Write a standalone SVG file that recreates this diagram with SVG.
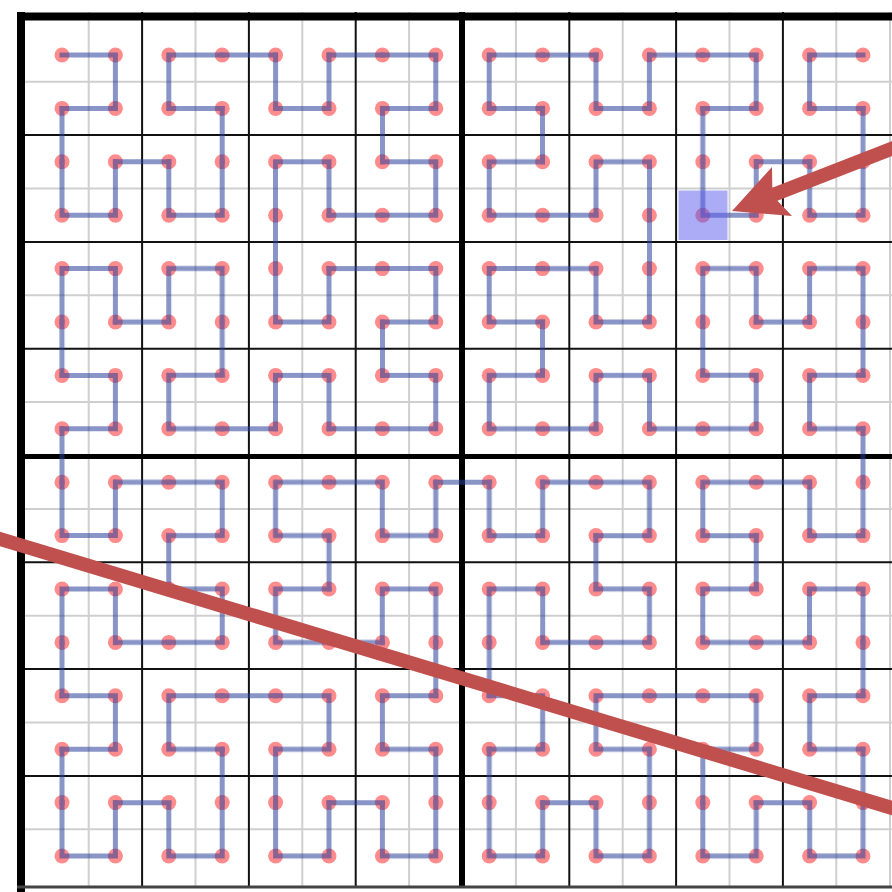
<svg xmlns="http://www.w3.org/2000/svg" xmlns:xlink="http://www.w3.org/1999/xlink" width="892" height="892" viewBox="0 0 892 892">
<style>
.gray{stroke:#cfcfcf;stroke-width:2;fill:none}
.blk{stroke:#111;stroke-width:2;fill:none}
.thick{stroke:#000;fill:none}
.dot{fill:#ff8c8c}
.curve{fill:none;stroke:#2a3f9a;stroke-width:5;stroke-linecap:square;stroke-linejoin:miter}
.red{fill:#c0504d;stroke:none}
</style>
<defs>
<g id="row">
<circle class="dot" cx="0" cy="0" r="7.5"/><circle class="dot" cx="53.4" cy="0" r="7.5"/><circle class="dot" cx="106.8" cy="0" r="7.5"/><circle class="dot" cx="160.2" cy="0" r="7.5"/><circle class="dot" cx="213.6" cy="0" r="7.5"/><circle class="dot" cx="267" cy="0" r="7.5"/><circle class="dot" cx="320.4" cy="0" r="7.5"/><circle class="dot" cx="373.8" cy="0" r="7.5"/><circle class="dot" cx="427.2" cy="0" r="7.5"/><circle class="dot" cx="480.6" cy="0" r="7.5"/><circle class="dot" cx="534" cy="0" r="7.5"/><circle class="dot" cx="587.4" cy="0" r="7.5"/><circle class="dot" cx="640.8" cy="0" r="7.5"/><circle class="dot" cx="694.2" cy="0" r="7.5"/><circle class="dot" cx="747.6" cy="0" r="7.5"/><circle class="dot" cx="801" cy="0" r="7.5"/>
</g>
<path id="h1" d="M0,0 V53.4 H53.4 V0"/>
<g id="h2">
<use href="#h1" xlink:href="#h1" transform="matrix(0,1,1,0,0,0)"/>
<use href="#h1" xlink:href="#h1" transform="translate(0,106.8)"/>
<use href="#h1" xlink:href="#h1" transform="translate(106.8,106.8)"/>
<use href="#h1" xlink:href="#h1" transform="matrix(0,-1,-1,0,160.2,53.4)"/>
<path d="M0,53.4 V106.8 M53.4,106.8 H106.8 M160.2,106.8 V53.4"/>
</g>
<g id="h3">
<use href="#h2" xlink:href="#h2" transform="matrix(0,1,1,0,0,0)"/>
<use href="#h2" xlink:href="#h2" transform="translate(0,213.6)"/>
<use href="#h2" xlink:href="#h2" transform="translate(213.6,213.6)"/>
<use href="#h2" xlink:href="#h2" transform="matrix(0,-1,-1,0,373.8,160.2)"/>
<path d="M0,160.2 V213.6 M160.2,213.6 H213.6 M373.8,213.6 V160.2"/>
</g>
<g id="h4">
<use href="#h3" xlink:href="#h3" transform="matrix(0,1,1,0,0,0)"/>
<use href="#h3" xlink:href="#h3" transform="translate(0,427.2)"/>
<use href="#h3" xlink:href="#h3" transform="translate(427.2,427.2)"/>
<use href="#h3" xlink:href="#h3" transform="matrix(0,-1,-1,0,801,373.8)"/>
<path d="M0,373.8 V427.2 M373.8,427.2 H427.2 M801,427.2 V373.8"/>
</g>
</defs>

<rect x="0" y="0" width="892" height="892" fill="#ffffff"/>

<g id="grid">
<path class="gray" d="M88.7,12 V886 M195.5,12 V886 M302.3,12 V886 M409.1,12 V886 M515.9,12 V886 M622.7,12 V886 M729.5,12 V886 M836.3,12 V886 M890,12 V886 M17,81.7 H892 M17,188.5 H892 M17,295.3 H892 M17,402.1 H892 M17,508.9 H892 M17,615.7 H892 M17,722.5 H892 M17,829.3 H892"/>
<path class="blk" d="M142.1,12 V886 M248.9,12 V886 M355.7,12 V886 M569.3,12 V886 M676.1,12 V886 M782.9,12 V886 M17,135.1 H892 M17,241.9 H892 M17,348.7 H892 M17,562.3 H892 M17,669.1 H892 M17,775.9 H892"/>
<path class="thick" stroke-width="6" d="M462,12 V888"/>
<path class="thick" stroke-width="5" d="M17,456.5 H892"/>
<path class="thick" stroke-width="8" d="M21,12 V892 M17,16.5 H892"/>
<path stroke="#444" stroke-width="3" fill="none" d="M17,887 H892"/>
</g>

<g id="dots">
<use href="#row" xlink:href="#row" transform="translate(62,55)"/>
<use href="#row" xlink:href="#row" transform="translate(62,108.4)"/>
<use href="#row" xlink:href="#row" transform="translate(62,161.8)"/>
<use href="#row" xlink:href="#row" transform="translate(62,215.2)"/>
<use href="#row" xlink:href="#row" transform="translate(62,268.6)"/>
<use href="#row" xlink:href="#row" transform="translate(62,322)"/>
<use href="#row" xlink:href="#row" transform="translate(62,375.4)"/>
<use href="#row" xlink:href="#row" transform="translate(62,428.8)"/>
<use href="#row" xlink:href="#row" transform="translate(62,482.2)"/>
<use href="#row" xlink:href="#row" transform="translate(62,535.6)"/>
<use href="#row" xlink:href="#row" transform="translate(62,589)"/>
<use href="#row" xlink:href="#row" transform="translate(62,642.4)"/>
<use href="#row" xlink:href="#row" transform="translate(62,695.8)"/>
<use href="#row" xlink:href="#row" transform="translate(62,749.2)"/>
<use href="#row" xlink:href="#row" transform="translate(62,802.6)"/>
<use href="#row" xlink:href="#row" transform="translate(62,856)"/>
</g>

<g id="curve" class="curve" opacity="0.55" transform="translate(62,55)">
<use href="#h4" xlink:href="#h4"/>
</g>

<rect id="highlight" x="678.5" y="190.5" width="49" height="49.5" fill="#5a5aee" opacity="0.5"/>

<g id="annotations">
<line x1="-10" y1="536" x2="902" y2="811" stroke="#c0504d" stroke-width="14"/>
<polygon class="red" points="732,211 772,167 772.3,187.8 906.4,135.5 911.4,148.5 777.4,200.8 792,216"/>
</g>
</svg>
